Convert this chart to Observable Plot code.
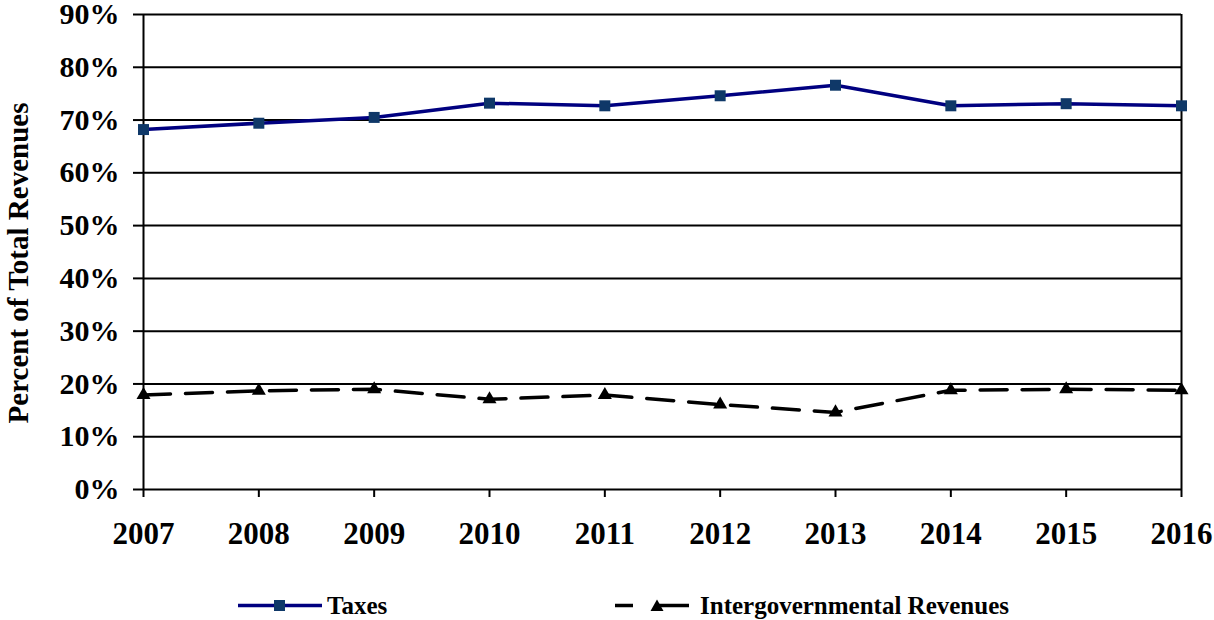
<!DOCTYPE html>
<html>
<head>
<meta charset="utf-8">
<script src="https://cdn.jsdelivr.net/npm/d3@7"></script>
<script src="https://cdn.jsdelivr.net/npm/@observablehq/plot@0.6"></script>
<style>
  html, body { margin: 0; padding: 0; background: #fff; }
  #wrap { position: relative; width: 1214px; height: 620px; font-family: "Liberation Serif", "Times New Roman", serif; }
  #legend { position: absolute; left: 0; top: 560px; width: 1214px; height: 60px; }
  .item { position: absolute; top: 45px; transform: translateY(-50%); display: flex; align-items: center; font-weight: bold; font-size: 25px; line-height: 1; color: #000; }
  .item svg { display: block; }
</style>
</head>
<body>
<div id="wrap"></div>
<script>
const years = [2007, 2008, 2009, 2010, 2011, 2012, 2013, 2014, 2015, 2016];
const taxes = [68.2, 69.4, 70.5, 73.2, 72.7, 74.6, 76.6, 72.7, 73.1, 72.7];
const intergov = [17.9, 18.7, 19.0, 17.1, 17.9, 16.1, 14.6, 18.8, 19.0, 18.8];
const yTicks = [0, 10, 20, 30, 40, 50, 60, 70, 80, 90];
const seriesNames = ["Taxes", "Intergovernmental Revenues"];
const yTitle = "Percent of Total Revenues";

const taxesData = years.map((y, i) => ({year: y, value: taxes[i]}));
const interData = years.map((y, i) => ({year: y, value: intergov[i]}));

const font = "'Liberation Serif', 'Times New Roman', serif";

const chart = Plot.plot({
  width: 1214,
  height: 560,
  marginLeft: 143,
  marginRight: 33,
  marginTop: 14,
  marginBottom: 71,
  style: {fontFamily: font, background: "#fff", color: "#000", overflow: "visible"},
  x: {domain: [2007, 2016], ticks: years, tickFormat: "d"},
  y: {domain: [0, 90], ticks: yTicks},
  marks: [
    Plot.ruleY(yTicks, {stroke: "#000", strokeWidth: 2}),
    Plot.ruleX([2016], {y1: 0, y2: 90, stroke: "#000", strokeWidth: 2}),
    Plot.ruleX([2007], {y1: 0, y2: 90, stroke: "#000", strokeWidth: 2}),
    Plot.axisX({ticks: years, tickFormat: "d", tickSize: 8, tickPadding: 24, fontSize: 31, fontWeight: "bold", stroke: "#000", strokeWidth: 2, label: null}),
    Plot.axisY({ticks: yTicks, tickFormat: d => d + "%", tickSize: 10, tickPadding: 14, fontSize: 30, fontWeight: "bold", stroke: "#000", strokeWidth: 2, label: null}),
    Plot.text([yTitle], {frameAnchor: "left", textAnchor: "middle", dx: -125, dy: 11, rotate: -90, fontSize: 29, fontWeight: "bold", fill: "#000"}),
    Plot.line(taxesData, {x: "year", y: "value", stroke: "#000080", strokeWidth: 3.5}),
    Plot.dot(taxesData, {x: "year", y: "value", symbol: "square", r: 6.2, fill: "#0F3868", stroke: "none"}),
    Plot.line(interData, {x: "year", y: "value", stroke: "#000", strokeWidth: 3.5, strokeDasharray: "27,15"}),
    Plot.dot(interData, {x: "year", y: "value", symbol: "triangle", r: 5.2, fill: "#000", stroke: "none"})
  ]
});

const wrap = document.getElementById("wrap");
wrap.appendChild(chart);

const legend = document.createElement("div");
legend.id = "legend";
legend.innerHTML = `
  <div class="item" style="left:238px">
    <svg width="84" height="14"><line x1="0" y1="7" x2="84" y2="7" stroke="#000080" stroke-width="3.5"/><rect x="36" y="1.5" width="11" height="11" fill="#0F3868"/></svg>
    <span style="margin-left:5px">${seriesNames[0]}</span>
  </div>
  <div class="item" style="left:615px">
    <svg width="74" height="14"><line x1="0" y1="7" x2="18" y2="7" stroke="#000" stroke-width="3.5"/><line x1="52" y1="7" x2="74" y2="7" stroke="#000" stroke-width="3.5"/><path d="M42,1 L48.5,12.5 L35.5,12.5 Z" fill="#000"/><line x1="42" y1="7" x2="52" y2="7" stroke="#000" stroke-width="3.5"/></svg>
    <span style="margin-left:11px">${seriesNames[1]}</span>
  </div>`;
wrap.appendChild(legend);
</script>
</body>
</html>
